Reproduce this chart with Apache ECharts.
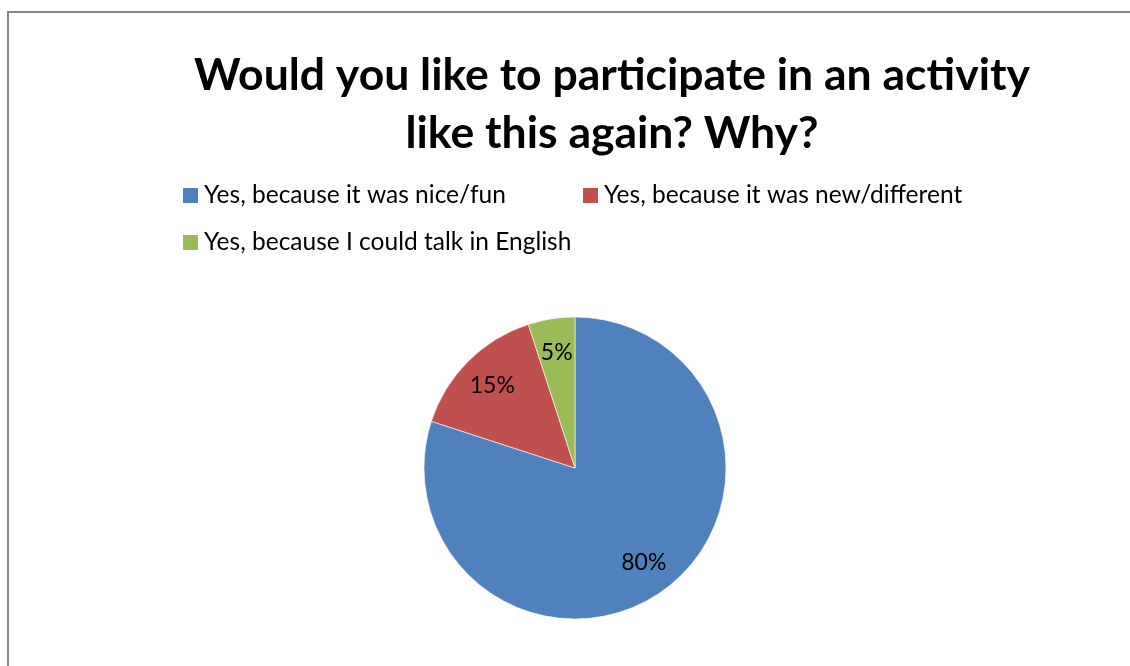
<!DOCTYPE html>
<html>
<head>
<meta charset="utf-8">
<script src="https://cdn.jsdelivr.net/npm/echarts@6/dist/echarts.min.js"></script>
<style>
  html, body { margin: 0; padding: 0; background: #fff; }
  #chart { width: 1130px; height: 666px; }
</style>
</head>
<body>
<div id="chart"></div>
<script>
// Survey answers and their shares (percent)
const categories = [
  'Yes, because it was nice/fun',
  'Yes, because it was new/different',
  'Yes, because I could talk in English'
];
const shares = [80, 15, 5];
const colors = ['#4F81BD', '#C0504D', '#9BBB59'];
const titleLines = ['Would you like to participate in an activity', 'like this again? Why?'];

const FONT = 'Lato, "Open Sans", sans-serif';
const pieData = categories.map((name, i) => ({ name, value: shares[i] }));

const legendRows = [
  { name: categories[0], left: 183, top: 183 },
  { name: categories[1], left: 583, top: 183 },
  { name: categories[2], left: 183, top: 230 }
];

const chart = echarts.init(document.getElementById('chart'), null, { renderer: 'canvas' });
chart.setOption({
  backgroundColor: '#ffffff',
  animation: false,
  color: colors,
  graphic: [
    {
      type: 'rect',
      shape: { x: 8, y: 12, width: 1200, height: 800 },
      style: { fill: 'none', stroke: '#868686', lineWidth: 2 },
      silent: true
    },
    {
      type: 'text',
      x: 612,
      y: 47,
      style: {
        text: titleLines.join('\n'),
        font: 'bold 44.5px ' + FONT,
        fill: '#000',
        align: 'center',
        verticalAlign: 'top',
        lineHeight: 58
      },
      silent: true
    }
  ],
  legend: legendRows.map(row => ({
    data: [row.name],
    left: row.left,
    top: row.top,
    icon: 'rect',
    itemWidth: 15,
    itemHeight: 15,
    selectedMode: false,
    padding: 0,
    itemStyle: { borderWidth: 0 },
    textStyle: { fontFamily: FONT, fontSize: 24.5, color: '#000', padding: [0, 0, 0, 1] }
  })),
  series: [
    {
      type: 'pie',
      center: [575, 468],
      radius: [0, 151],
      startAngle: 90,
      clockwise: true,
      silent: true,
      label: { show: false },
      labelLine: { show: false },
      itemStyle: { borderColor: '#ffffff', borderWidth: 0.6 },
      data: pieData
    },
    {
      // transparent ring that only carries the percentage labels
      type: 'pie',
      center: [575, 468],
      radius: [77, 151],
      startAngle: 90,
      clockwise: true,
      silent: true,
      legendHoverLink: false,
      itemStyle: { color: 'rgba(0,0,0,0)' },
      label: {
        show: true,
        position: 'inside',
        formatter: '{c}%',
        fontFamily: FONT,
        fontSize: 23,
        color: '#000'
      },
      labelLine: { show: false },
      data: pieData
    }
  ]
});
</script>
</body>
</html>
